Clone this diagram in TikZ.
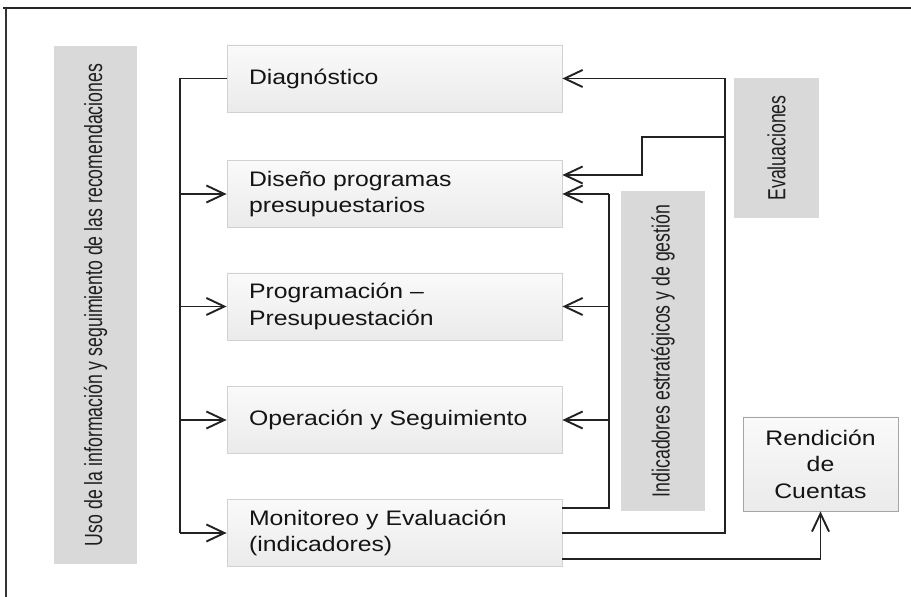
\documentclass[tikz,border=0pt]{standalone}
\usepackage{fontspec}
\newfontfamily\boxfont[FakeStretch=1.18]{Liberation Sans}
\newfontfamily\narrowfont[FakeStretch=0.714]{Liberation Sans}
\usetikzlibrary{arrows.meta,calc,positioning}
\definecolor{lineclr}{HTML}{222222}

\begin{document}
\begin{tikzpicture}[x=0.5pt,y=-0.5pt,
 box/.style={draw=black!18,top color=black!2,bottom color=black!8,inner ysep=0pt,
  text=black!92,font=\boxfont\fontsize{10.5}{13.25}\selectfont},
 stage/.style={box,minimum width=167.5pt,minimum height=33.5pt,text width=145.5pt,
  inner xsep=11pt,align=left},
 band/.style={fill=black!15,rotate=90,inner sep=0pt,text=black!88,
  font=\narrowfont\fontsize{12.4}{14}\selectfont},
 flow/.style={draw=lineclr,line width=0.95pt},
 arr/.style={flow,-{Straight Barb[length=9pt,width=8.5pt]}}]
\useasboundingbox (0,0) rectangle (911,597);
\draw [line width=1.4pt,black!85] (3,8) -- (911,8);
\draw [line width=0.7pt,black!80] (6,8) -- (6,597);

\node [band,minimum width=259pt,minimum height=41.5pt] (uso) at (95.5,305)
 {Uso de la información y seguimiento de las recomendaciones};
\node [band,minimum width=160pt,minimum height=42pt] (indic) at (663,351)
 {Indicadores estratégicos y de gestión};
\node [band,minimum width=70pt,minimum height=42.5pt] (evalua) at (776.5,148) {Evaluaciones};

\node [stage] (diag) at (394.5,78.5) {Diagnóstico};
\node [stage] (diseno) at (394.5,194) {Diseño programas\\presupuestarios};
\node [stage] (prog) at (394.5,306.5) {Programación –\\Presupuestación};
\node [stage] (oper) at (394.5,420) {Operación y Seguimiento};
\node [stage] (monit) at (394.5,533) {Monitoreo y Evaluación\\(indicadores)};
\node [box,draw=black!35,minimum width=77.5pt,minimum height=47pt,inner xsep=0pt,
 align=center] (rend) at (820.5,464) {Rendición\\de\\Cuentas};

\coordinate (usobus) at (180,0);
\coordinate (indbus) at (609,0);
\coordinate (evabus) at (725,0);
\coordinate (evastep) at (642,0);
\coordinate (evasplit) at (725,137);
\coordinate (dsnin) at ($(diseno.east)+(0,-19)$);
\coordinate (mind) at ($(monit.north east)+(0,9)$);
\coordinate (mren) at ($(monit.south east)+(0,-8)$);

\draw [flow] (diag.west) -- (usobus |- diag) -- (usobus |- monit);
\foreach \s in {diseno,prog,oper,monit}
 \draw [arr] (usobus |- \s) -- (\s.west);

\draw [flow] (mind) -- (indbus |- mind) -- (indbus |- diseno);
\foreach \s in {diseno,prog,oper}
 \draw [arr] (indbus |- \s) -- (\s.east);

\draw [flow] (monit.east) -- (evabus |- monit) -- (evabus |- diag);
\draw [arr] (evabus |- diag) -- (diag.east);
\draw [arr] (evasplit) -- (evastep |- evasplit) -- (evastep |- dsnin) -- (dsnin);

\draw [arr] (mren) -| (rend.south);
\end{tikzpicture}
\end{document}
